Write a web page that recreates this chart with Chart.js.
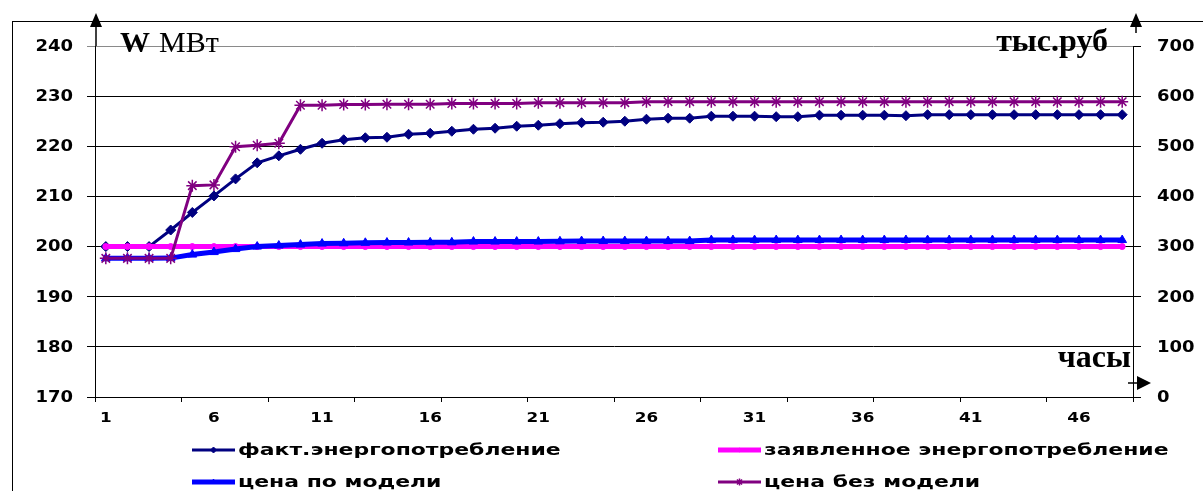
<!DOCTYPE html>
<html>
<head>
<meta charset="utf-8">
<script src="https://cdn.jsdelivr.net/npm/chart.js@4.4.0/dist/chart.umd.min.js"></script>
<style>
  body { margin: 0; background: #fff; }
  #wrap { width: 1203px; height: 491px; position: relative; }
</style>
</head>
<body>
<div id="wrap"><canvas id="energy_chart"></canvas></div>
<script>
// hours on the x axis
const hours = [1,2,3,4,5,6,7,8,9,10,11,12,13,14,15,16,17,18,19,20,21,22,23,24,
               25,26,27,28,29,30,31,32,33,34,35,36,37,38,39,40,41,42,43,44,45,46,47,48];

// left axis, МВт
const factUse = [200,200,200,203.3,206.8,210.1,213.5,216.7,218.1,219.4,220.6,221.3,
                 221.7,221.8,222.4,222.6,223.0,223.4,223.6,224.0,224.2,224.5,224.7,224.8,
                 225.0,225.4,225.6,225.6,226.0,226.0,226.0,225.9,225.9,226.2,226.2,226.2,
                 226.2,226.1,226.3,226.3,226.3,226.3,226.3,226.3,226.3,226.3,226.3,226.3];
const declaredUse = [200,200,200,200,200,200,200,200,200,200,200,200,
                     200,200,200,200,200,200,200,200,200,200,200,200,
                     200,200,200,200,200,200,200,200,200,200,200,200,
                     200,200,200,200,200,200,200,200,200,200,200,200];

// right axis, тыс.руб
const priceModel = [276.5,276.5,276.5,277,284,289,295,300,302,304,306,306.5,
                    307.5,308,308,308.5,308.5,310,310,310,310,310.5,311,311,
                    311,311,311,311,313,313,313,313,313,313,313,313,
                    313,313,313,313,313,313,313,313,313,313,313,313];
const priceNoModel = [276.5,276.5,276.5,276.5,421.5,423,499,502,506,582,582,583.5,
                      583.5,584,584,584,585.5,585.5,585.5,585.5,587,587,587,587,
                      587,589,589,589,589,589,589,589,589,589,589,589,
                      589,589,589,589,589,589,589,589,589,589,589,589];

const leftTicks = {min: 170, max: 240, step: 10};
const rightTicks = {min: 0, max: 700, step: 100};

const seriesNames = ['факт.энергопотребление', 'заявленное энергопотребление',
                     'цена по модели', 'цена без модели'];

// draw text stretched sideways, like the old excel picture
function wideText(ctx, text, x, y, align, sx) {
  ctx.save();
  ctx.translate(x, y);
  ctx.scale(sx, 1);
  ctx.textAlign = align;
  ctx.fillText(text, 0, 0);
  ctx.restore();
}

function arrow(ctx, x1, y1, x2, y2, tip, base, half, dir) {
  ctx.beginPath();
  ctx.moveTo(x1, y1);
  ctx.lineTo(x2, y2);
  ctx.stroke();
  ctx.beginPath();
  if (dir === 'up') {
    ctx.moveTo(x2, tip); ctx.lineTo(x2 - half, base); ctx.lineTo(x2 + half, base);
  } else {
    ctx.moveTo(tip, y2); ctx.lineTo(base, y2 - half); ctx.lineTo(base, y2 + half);
  }
  ctx.closePath();
  ctx.fill();
}

const decor = {
  id: 'decor',
  afterDraw(chart) {
    const ctx = chart.ctx;
    const area = chart.chartArea;
    const sx = chart.scales.x, sy = chart.scales.y, sy1 = chart.scales.y1;
    ctx.save();
    ctx.fillStyle = '#000';
    ctx.strokeStyle = '#000';

    // outer frame
    ctx.lineWidth = 1;
    ctx.strokeRect(12.5, 21.5, 1400, 600);

    // tick labels
    ctx.textBaseline = 'middle';
    ctx.font = 'bold 15px "DejaVu Sans"';
    sy.ticks.forEach((t, i) => wideText(ctx, String(t.value), 73, sy.getPixelForTick(i) + 1, 'right', 1.2));
    sy1.ticks.forEach((t, i) => wideText(ctx, String(t.value), 1157, sy1.getPixelForTick(i) + 1, 'left', 1.2));
    ctx.font = 'bold 14px "DejaVu Sans"';
    sx.ticks.forEach((t, i) => {
      if (i % 5 === 0) wideText(ctx, String(hours[i]), sx.getPixelForTick(i), 418, 'center', 1.2);
    });

    // axis arrows
    ctx.lineWidth = 1.5;
    arrow(ctx, 96, area.top, 96, 27, 13, 27, 6, 'up');
    arrow(ctx, 1136, 33, 1136, 27, 13, 27, 6, 'up');
    arrow(ctx, 1128, 383, 1137, 383, 1151, 1137, 7, 'right');

    // axis titles
    ctx.textBaseline = 'alphabetic';
    ctx.textAlign = 'left';
    ctx.font = 'bold 30px "Liberation Serif"';
    ctx.fillText('W', 120, 52);
    ctx.font = '30px "Liberation Serif"';
    ctx.fillText('МВт', 159, 52);
    ctx.textAlign = 'right';
    ctx.font = 'bold 32px "Liberation Serif"';
    ctx.fillText('тыс.руб', 1108, 51);
    ctx.fillText('часы', 1131, 367);

    // legend, two columns
    const colX = [192, 718];
    const rowY = [450, 482];
    chart.data.datasets.forEach((ds, i) => {
      const x = colX[i % 2], y = rowY[Math.floor(i / 2)];
      ctx.strokeStyle = ds.borderColor;
      ctx.fillStyle = ds.pointBackgroundColor;
      ctx.lineWidth = ds.borderWidth;
      ctx.beginPath();
      ctx.moveTo(x, y);
      ctx.lineTo(x + 43, y);
      ctx.stroke();
      ctx.strokeStyle = ds.pointBorderColor;
      ctx.lineWidth = ds.pointBorderWidth;
      Chart.helpers.drawPoint(ctx, {
        pointStyle: ds.pointStyle, rotation: 0,
        radius: ds.pointRadius * 0.6, borderWidth: ds.pointBorderWidth
      }, x + 21.5, y);
      ctx.fillStyle = '#000';
      ctx.textBaseline = 'middle';
      ctx.font = 'bold 16px "DejaVu Sans"';
      wideText(ctx, ds.label, x + 46, y + 1, 'left', 1.37);
    });
    ctx.restore();
  }
};

const energy_chart = document.querySelector('#energy_chart').getContext('2d');

new Chart(energy_chart, {
  type: 'line',
  data: {
    labels: hours,
    datasets: [{
      label: seriesNames[0],
      data: factUse,
      yAxisID: 'y',
      borderColor: '#000080',
      borderWidth: 3,
      pointStyle: 'rectRot',
      pointRadius: 5,
      pointBackgroundColor: '#000080',
      pointBorderColor: '#000080',
      pointBorderWidth: 1,
      order: 4
    }, {
      label: seriesNames[1],
      data: declaredUse,
      yAxisID: 'y',
      borderColor: '#FF00FF',
      borderWidth: 5,
      pointStyle: 'circle',
      pointRadius: 3,
      pointBackgroundColor: '#FF00FF',
      pointBorderColor: '#FF00FF',
      pointBorderWidth: 1,
      order: 3
    }, {
      label: seriesNames[2],
      data: priceModel,
      yAxisID: 'y1',
      borderColor: '#0000FF',
      borderWidth: 5,
      pointStyle: 'triangle',
      pointRadius: 5,
      pointBackgroundColor: '#0000FF',
      pointBorderColor: '#0000FF',
      pointBorderWidth: 1,
      order: 2
    }, {
      label: seriesNames[3],
      data: priceNoModel,
      yAxisID: 'y1',
      borderColor: '#800080',
      borderWidth: 3,
      pointStyle: 'star',
      pointRadius: 6,
      pointBackgroundColor: '#800080',
      pointBorderColor: '#800080',
      pointBorderWidth: 1.5,
      order: 1
    }]
  },
  options: {
    responsive: true,
    maintainAspectRatio: false,
    animation: false,
    layout: { padding: { top: 46, left: 0, right: 0, bottom: 0 } },
    plugins: {
      legend: { display: false },
      tooltip: { enabled: false }
    },
    elements: { line: { tension: 0 } },
    scales: {
      x: {
        offset: true,
        afterFit(s) { s.height = 94; },
        ticks: { display: false },
        grid: {
          offset: true,
          drawOnChartArea: false,
          drawTicks: true,
          tickLength: 5,
          color: (c) => (c.index === undefined || c.index % 4 === 0) ? '#000' : 'rgba(0,0,0,0)'
        },
        border: { display: true, color: '#000', width: 1 }
      },
      y: {
        position: 'left',
        min: leftTicks.min,
        max: leftTicks.max,
        afterFit(s) { s.width = 95; },
        ticks: { display: false, stepSize: leftTicks.step },
        grid: {
          color: (c) => c.tick && c.tick.value === leftTicks.max ? '#8a8a8a' : '#000',
          lineWidth: 1,
          drawTicks: true,
          tickLength: 8
        },
        border: { display: true, color: '#000', width: 1 }
      },
      y1: {
        position: 'right',
        min: rightTicks.min,
        max: rightTicks.max,
        afterFit(s) { s.width = 70; },
        ticks: { display: false, stepSize: rightTicks.step },
        grid: {
          drawOnChartArea: false,
          drawTicks: true,
          tickLength: 8,
          color: '#000'
        },
        border: { display: true, color: '#000', width: 1 }
      }
    }
  },
  plugins: [decor]
});
</script>
</body>
</html>
